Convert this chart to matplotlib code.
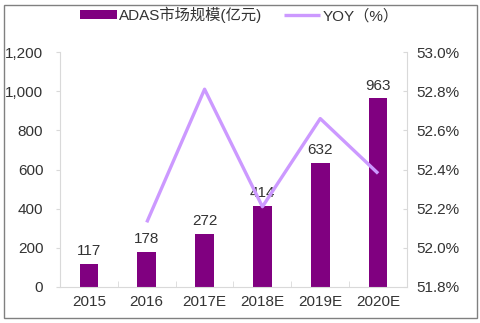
import matplotlib
matplotlib.use("Agg")
import matplotlib.pyplot as plt
from matplotlib.patches import Rectangle
from matplotlib.ticker import FuncFormatter, FixedLocator

categories = ["2015", "2016", "2017E", "2018E", "2019E", "2020E"]
market_size = [117, 178, 272, 414, 632, 963]
yoy = [None, 52.13, 52.81, 52.21, 52.66, 52.38]
bar_label = "ADAS市场规模(亿元)"
line_label = "YOY（%）"

plt.rcParams['font.family'] = ['Liberation Sans', 'Noto Sans CJK SC', 'DejaVu Sans']
plt.rcParams['font.size'] = 11

W, H = 480, 323
fig = plt.figure(figsize=(W/100, H/100), dpi=100)
ax = fig.add_axes([60/W, 1-287/H, 347/W, 235/H])
ax2 = ax.twinx()

x = list(range(len(categories)))
bar_color = "#800080"
line_color = "#CC99FF"
bars = ax.bar(x, market_size, width=0.32, color=bar_color, zorder=2, label=bar_label)
for xi, v in zip(x, market_size):
    ax.text(xi, v + 30, f"{v}", ha="center", va="bottom", color="#333333", fontsize=11, zorder=5)

xs = [xi for xi, v in zip(x, yoy) if v is not None]
ys = [v for v in yoy if v is not None]
ln, = ax2.plot(xs, ys, color=line_color, lw=2.4, label=line_label, solid_capstyle='butt')

ax.set_xlim(-0.5, len(categories) - 0.5)
ax.set_ylim(0, 1200)
ax.set_yticks([0, 200, 400, 600, 800, 1000, 1200])
ax.yaxis.set_major_formatter(FuncFormatter(lambda v, p: f"{int(v):,}"))
ax2.set_ylim(51.8, 53.0)
ax2.set_yticks([51.8, 52.0, 52.2, 52.4, 52.6, 52.8, 53.0])
ax2.yaxis.set_major_formatter(FuncFormatter(lambda v, p: f"{v:.1f}%"))

ax.set_xticks(x)
ax.set_xticklabels(categories)
ax.xaxis.set_minor_locator(FixedLocator([i + 0.5 for i in range(-1, len(categories))]))
ax.tick_params(axis='x', which='major', length=0, pad=6, colors="#333333", labelsize=11)
ax.tick_params(axis='x', which='minor', length=4, direction='in', color="#d9d9d9")
ax.tick_params(axis='y', length=3, direction='out', color="#d9d9d9", labelcolor="#333333", pad=9, labelsize=11)
ax2.tick_params(axis='y', length=3, direction='in', color="#d9d9d9", labelcolor="#333333", pad=6.5, labelsize=11)

for a in (ax, ax2):
    a.spines["top"].set_visible(False)
    for s in ("left", "right", "bottom"):
        a.spines[s].set_color("#d9d9d9")
ax.spines["right"].set_visible(False)
ax2.spines["left"].set_visible(False)
ax2.spines["bottom"].set_visible(False)

fig.legend(handles=[bars, ln], labels=[bar_label, line_label], loc="center left",
           bbox_to_anchor=(80/W, 1-15/H), ncol=2, frameon=False, fontsize=11,
           handlelength=2.4, handleheight=0.5, handletextpad=0.15, columnspacing=1.4,
           labelcolor="#333333", borderpad=0, borderaxespad=0)

fig.patches.append(Rectangle((4/W, 5/H), 473/W, 313/H, transform=fig.transFigure,
                             fill=False, edgecolor="#808080", lw=1))

fig.savefig("out.png", dpi=100)
